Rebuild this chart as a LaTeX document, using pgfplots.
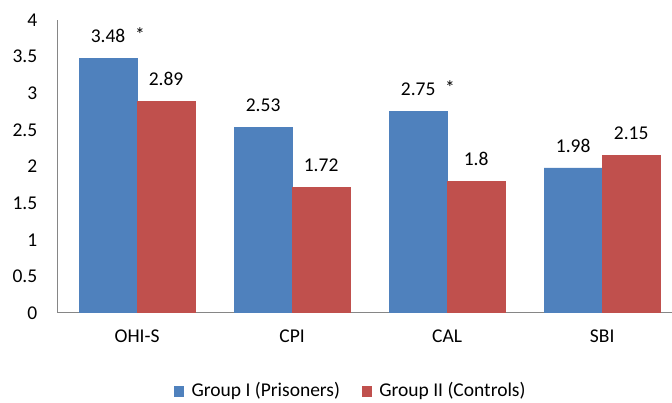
\documentclass[border=0pt]{standalone}
\usepackage{pgfplots}
\pgfplotsset{compat=1.18}
\usepackage{fontspec}
\setmainfont{Carlito}
\definecolor{cblue}{HTML}{4F81BD}
\definecolor{cred}{HTML}{C0504D}
\definecolor{caxis}{HTML}{868686}
\begin{document}
\fontsize{19.5}{23}\selectfont
\begin{tikzpicture}
\begin{axis}[
  scale only axis, width=614pt, height=293pt,
  ymin=0, ymax=4, ytick={0,0.5,1,1.5,2,2.5,3,3.5,4},
  xmin=-0.51, xmax=3.45,
  xtick={0,1,2,3}, xticklabels={OHI-S,CPI,CAL,SBI},
  ybar=0pt, bar width=58pt,
  axis x line*=bottom, axis y line*=left,
  axis line style={caxis, line width=1pt, -},
  major tick length=0pt,
  /pgf/number format/assume math mode=true,
  yticklabel style={anchor=east, xshift=-14pt, font=\fontsize{19.5}{23}\selectfont},
  xticklabel style={yshift=-10pt, font=\fontsize{19.5}{23}\selectfont},
  yticklabel={\pgfmathprintnumber{\tick}},
  nodes near coords,
  point meta=explicit symbolic,
  nodes near coords style={anchor=south, yshift=9pt, font=\fontsize{19.5}{23}\selectfont, text=black},
  legend style={at={(0.477,-0.267)}, anchor=center, draw=none, legend columns=2,
    font=\fontsize{19.5}{23}\selectfont, inner sep=1pt,
    /tikz/every odd column/.append style={column sep=6pt},
    /tikz/every even column/.append style={column sep=20pt}},
  legend image code/.code={\fill[#1] (0pt,-4.5pt) rectangle (9pt,5pt);},
]
\addplot[fill=cblue, draw=cblue] coordinates {
  (0,3.48) [3.48\rlap{\hspace{0.5em}\raisebox{1pt}{*}}]
  (1,2.53) [2.53]
  (2,2.75) [2.75\rlap{\hspace{0.5em}\raisebox{1pt}{*}}]
  (3,1.98) [1.98]
};
\addplot[fill=cred, draw=cred] coordinates {
  (0,2.89) [2.89]
  (1,1.72) [1.72]
  (2,1.8) [1.8]
  (3,2.15) [2.15]
};
\legend{Group I (Prisoners), Group II (Controls)}
\end{axis}
\pgfresetboundingbox
\path (current axis.south west) ++(-58pt,-90pt) rectangle ++(672pt,403pt);
\end{tikzpicture}
\end{document}
